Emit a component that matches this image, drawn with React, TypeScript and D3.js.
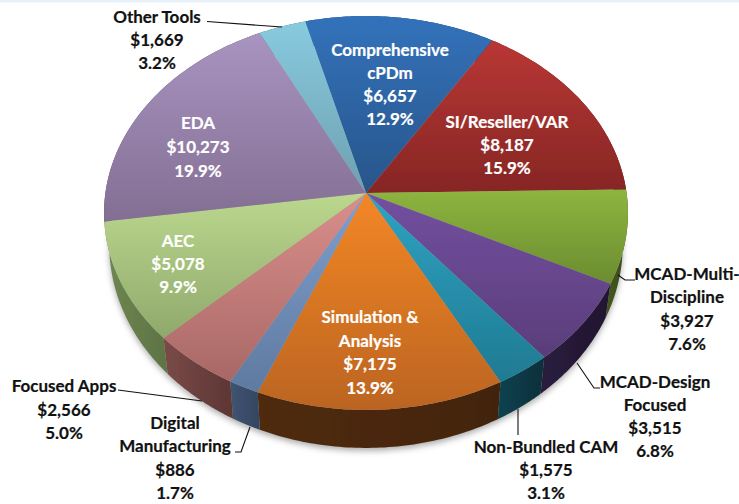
import React from "react";
import * as d3 from "d3";

const categories = ["Comprehensive cPDm","SI/Reseller/VAR","MCAD-Multi-Discipline","MCAD-Design Focused","Non-Bundled CAM","Simulation & Analysis","Digital Manufacturing","Focused Apps","AEC","EDA","Other Tools"];
const values = [6657,8187,3927,3515,1575,7175,886,2566,5078,10273,1669];
const shares = ["12.9%","15.9%","7.6%","6.8%","3.1%","13.9%","1.7%","5.0%","9.9%","19.9%","3.2%"];
const labelLines = [["Comprehensive","cPDm"],["SI/Reseller/VAR"],["MCAD-Multi-","Discipline"],["MCAD-Design","Focused"],["Non-Bundled CAM"],["Simulation &","Analysis"],["Digital","Manufacturing"],["Focused Apps"],["AEC"],["EDA"],["Other Tools"]];

const topLight = ["#3372bb","#b93735","#8db53f","#7350a0","#2fa3c3","#f38726","#7f9fd0","#da8f8b","#bcd88e","#a894c0","#88cadf"];
const topDark = ["#28558a","#862624","#6b8c30","#5a3d7a","#1f7a92","#bb6420","#5f7a9f","#a86866","#8fa96c","#836e93","#6ea0b0"];
const sideA = ["#1c3554","#571a19","#46591f","#2a1c3e","#0f4350","#4f2b0d","#3f5472","#7a4a48","#6f8752","#524459","#44636d"];
const sideB = ["#1c3554","#571a19","#38481a","#21162f","#0b2e3a","#42240a","#344560","#5c3634","#5d7344","#524459","#44636d"];
const labelX = [390,507,687,655,546,370,175,64,178,198,157];
const labelY = [50,122,274,382,447,317,423,386,241,123,17];
const labelInk = ["#fff","#fff","#111","#111","#111","#fff","#111","#111","#fff","#fff","#111"];
const lineStep = [23,23,23.3,23,23,23.7,23.3,23.5,23,24,23];
const leaders = [
  [[207,21.5],[282,27]],
  [[118,390],[202,401]],
  [[235,452],[241,452],[250,427]],
  [[518,409],[518,435]],
  [[600,388],[594,388],[577,363]],
  [[635,280],[625,280],[618,275]],
];

// Perspective disc: the apex of the pie sits above the centre of the rim ellipse.
const apexX = 366, apexY = 193, kPersp = 0.1015, ax = 260.6, by = 194.9;
const project = (a: number, r = 1) => {
  const u = r * Math.sin(a), v = r * Math.cos(a);
  const w = 1 + kPersp * v;
  return [apexX + (ax * u) / w, apexY - (by * v) / w];
};
const lower = ([x, y]: number[]) => [apexX + (x - apexX) * 0.98, y + 31.5 + (y - apexY) * 0.03];

const startAngle = (-14.8 * Math.PI) / 180;
const arcs = d3.pie<number>().sort(null).startAngle(startAngle).endAngle(startAngle + 2 * Math.PI)(values);
const rim = (a0: number, a1: number) => d3.range(0, 61).map((i) => project(a0 + ((a1 - a0) * i) / 60));
const lineGen = d3.line();

export default function App() {
  const full = rim(startAngle, startAngle + 2 * Math.PI);
  return (
    <svg width={739} height={504} style={{ position: "absolute", left: 0, top: 0, background: "#fff" }} fontFamily="Lato, sans-serif" fontWeight={700}>
      <defs>
        <filter id="soft" x="-10%" y="-10%" width="120%" height="120%"><feGaussianBlur stdDeviation="3" /></filter>
        <filter id="tiny" x="-5%" y="-5%" width="110%" height="110%"><feGaussianBlur stdDeviation="0.45" /></filter>
        {arcs.map((_, i) => (
          <React.Fragment key={i}>
            <linearGradient id={`t${i}`} x1="0" y1="0" x2="0" y2="1">
              <stop offset="0" stopColor={topLight[i]} /><stop offset="1" stopColor={topDark[i]} />
            </linearGradient>
            <linearGradient id={`s${i}`} x1="0" y1="0" x2="1" y2="0">
              <stop offset="0" stopColor={sideA[i]} /><stop offset="1" stopColor={sideB[i]} />
            </linearGradient>
          </React.Fragment>
        ))}
      </defs>
      <rect width={739} height={2.5} fill="#e6f1fa" />
      <path d={lineGen(full.map((p) => { const q = lower(p); return [q[0], q[1] + 3]; }))! + "Z"} fill="#555" opacity={0.5} filter="url(#soft)" />
      <g filter="url(#tiny)">
        {arcs.map((d, i) => {
          const pts = rim(d.startAngle, d.endAngle);
          const poly = [...pts, ...pts.slice().reverse().map(lower)];
          return <path key={i} d={lineGen(poly as [number, number][])! + "Z"} fill={`url(#s${i})`} />;
        })}
        {arcs.map((d, i) => {
          const pts = rim(d.startAngle, d.endAngle);
          return <path key={i} d={lineGen([[apexX, apexY], ...pts] as [number, number][])! + "Z"} fill={`url(#t${i})`} />;
        })}
      </g>
      {leaders.map((l, i) => (
        <path key={i} d={lineGen(l as [number, number][])!} fill="none" stroke="#111" strokeWidth={1.1} />
      ))}
      {categories.map((c, i) => {
        const lines = [...labelLines[i], "$" + d3.format(",")(values[i]), shares[i]];
        return (
          <text key={c} textAnchor="middle" fontSize={17} fill={labelInk[i]} stroke={labelInk[i]} strokeWidth={0.2}>
            {lines.map((t, j) => (
              <tspan key={j} x={labelX[i]} y={labelY[i] + j * lineStep[i] + 6}>{t}</tspan>
            ))}
          </text>
        );
      })}
    </svg>
  );
}
